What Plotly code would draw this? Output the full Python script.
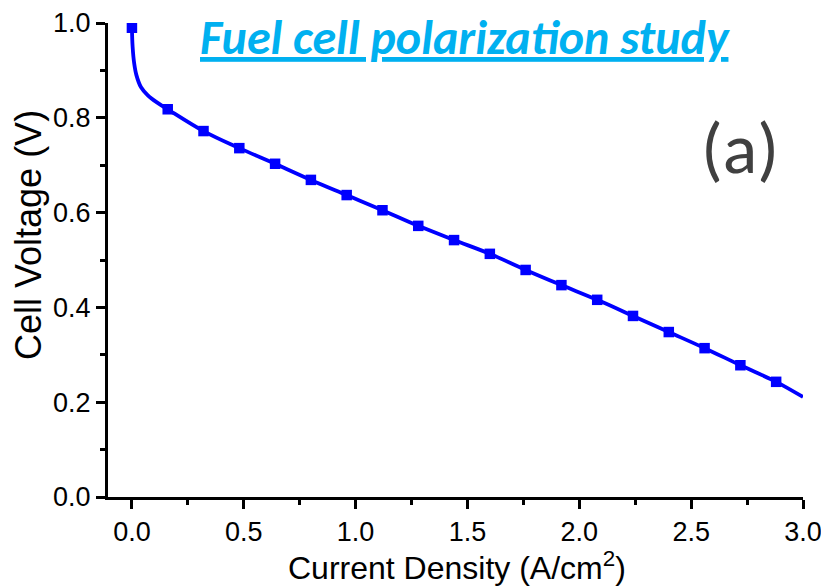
import plotly.graph_objects as go

# Measured points (markers)
current_density = [0.0, 0.16, 0.32, 0.48, 0.64, 0.80, 0.96, 1.12, 1.28, 1.44,
                   1.60, 1.76, 1.92, 2.08, 2.24, 2.40, 2.56, 2.72, 2.88]
cell_voltage = [0.990, 0.818, 0.772, 0.736, 0.703, 0.669, 0.637, 0.605, 0.572, 0.542,
                0.513, 0.479, 0.447, 0.416, 0.382, 0.348, 0.314, 0.278, 0.243]

# Fitted curve
fit_x = [0.0, 0.003, 0.01, 0.02, 0.04, 0.07, 0.11, 0.16, 0.32, 0.48, 0.64, 0.80, 0.96,
         1.12, 1.28, 1.44, 1.60, 1.76, 1.92, 2.08, 2.24, 2.40, 2.56, 2.72, 2.88, 3.0]
fit_y = [0.990, 0.950, 0.915, 0.890, 0.865, 0.848, 0.833, 0.818, 0.772, 0.736, 0.703, 0.669, 0.637,
         0.605, 0.572, 0.542, 0.513, 0.479, 0.447, 0.416, 0.382, 0.348, 0.314, 0.278, 0.243, 0.211]

x_ticks = [0.0, 0.5, 1.0, 1.5, 2.0, 2.5, 3.0]
x_ticklabels = ["0.0", "0.5", "1.0", "1.5", "2.0", "2.5", "3.0"]
y_ticks = [0.0, 0.2, 0.4, 0.6, 0.8, 1.0]
y_ticklabels = ["0.0", "0.2", "0.4", "0.6", "0.8", "1.0"]

BLUE = "#0000FF"

# plot area in pixels: x 108..803, y 23..497
L, R, T, B = 108, 803, 23, 497


def px(xp):
    return (xp - L) / (R - L)


def py(yp):
    return (B - yp) / (B - T)


fig = go.Figure()
fig.add_trace(go.Scatter(x=fit_x, y=fit_y, mode="lines",
                         line=dict(color=BLUE, width=3.8, shape="spline", smoothing=1.0),
                         showlegend=False, hoverinfo="skip"))
fig.add_trace(go.Scatter(x=current_density, y=cell_voltage, mode="markers",
                         marker=dict(symbol="square", size=10.5, color=BLUE),
                         showlegend=False))

tickfont = dict(family="Arial, Liberation Sans, sans-serif", size=27, color="black")

fig.update_layout(
    width=821, height=587,
    margin=dict(l=L, r=821 - R, t=T, b=587 - B),
    paper_bgcolor="white", plot_bgcolor="white",
    xaxis=dict(range=[-0.107, 3.0], tickvals=x_ticks, ticktext=x_ticklabels,
               showgrid=False, zeroline=False, showline=True, linecolor="black", linewidth=3,
               ticks="outside", ticklen=9, tickwidth=3, tickcolor="black",
               tickfont=tickfont, automargin=False, ticklabeloverflow="allow",
               minor=dict(tickvals=[0.25, 0.75, 1.25, 1.75, 2.25, 2.75], ticks="outside",
                          ticklen=5, tickwidth=3, tickcolor="black", showgrid=False)),
    yaxis=dict(range=[0, 1.0], tickvals=y_ticks, ticktext=y_ticklabels,
               showgrid=False, zeroline=False, showline=True, linecolor="black", linewidth=3,
               ticks="outside", ticklen=9, tickwidth=3, tickcolor="black",
               tickfont=tickfont, automargin=False, ticklabeloverflow="allow",
               minor=dict(tickvals=[0.1, 0.3, 0.5, 0.7, 0.9], ticks="outside",
                          ticklen=5, tickwidth=3, tickcolor="black", showgrid=False)),
    annotations=[
        dict(text="<u><b><i>Fuel cell polarization study</i></b></u>",
             xref="paper", yref="paper", x=px(465), y=py(38), xanchor="center", yanchor="middle",
             showarrow=False,
             font=dict(family="Carlito, Calibri, Lato, sans-serif", size=48, color="#00B0F0")),
        dict(text="(a)", xref="paper", yref="paper", x=px(740), y=py(148),
             xanchor="center", yanchor="middle", showarrow=False,
             font=dict(family="Carlito, Calibri, Lato, sans-serif", size=72, color="#404040")),
        dict(text="Current Density (A/cm<sup>2</sup>)", xref="paper", yref="paper",
             x=px(457), y=py(566), xanchor="center", yanchor="middle",
             showarrow=False,
             font=dict(family="Arial, Liberation Sans, sans-serif", size=32, color="black")),
        dict(text="Cell Voltage (V)", xref="paper", yref="paper", textangle=-90,
             x=px(28), y=py(235), xanchor="center", yanchor="middle",
             showarrow=False,
             font=dict(family="Arial, Liberation Sans, sans-serif", size=36, color="black")),
    ],
)

fig.write_html("out.html")
